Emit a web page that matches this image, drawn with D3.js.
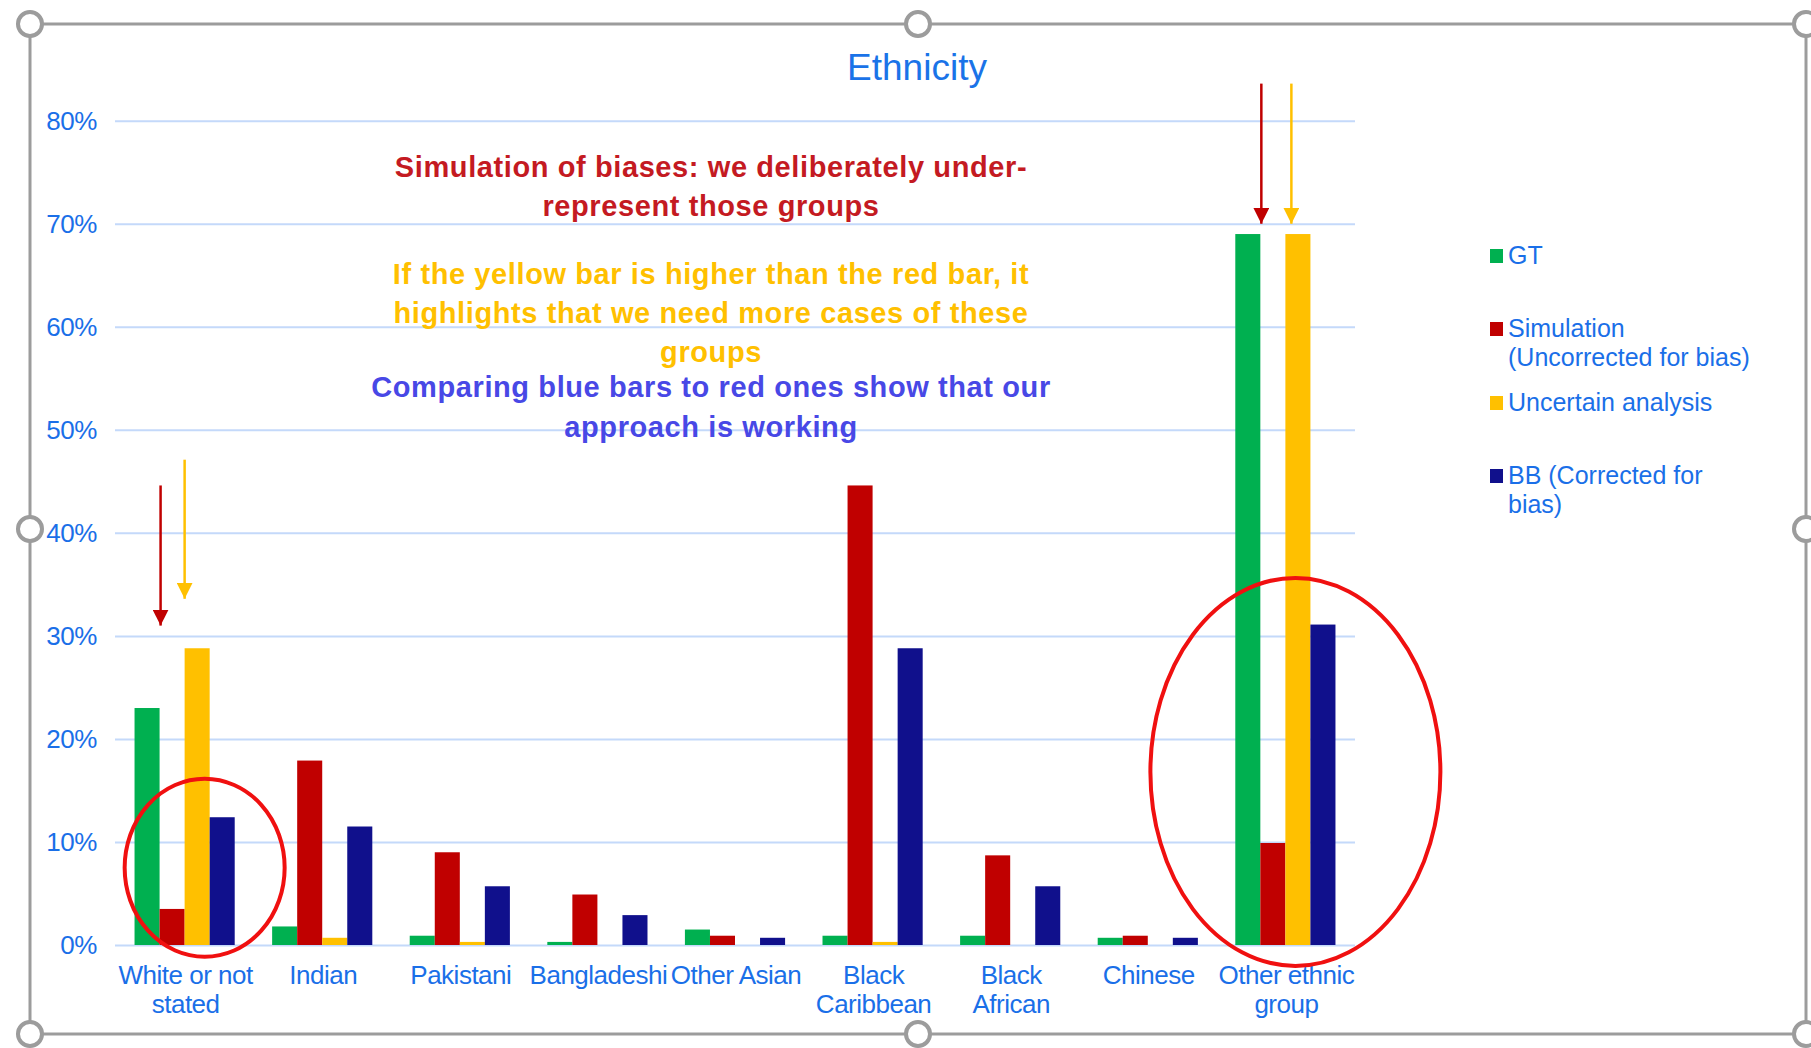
<!DOCTYPE html>
<html>
<head>
<meta charset="utf-8">
<script src="https://cdn.jsdelivr.net/npm/d3@7"></script>
<style>
  html, body { margin: 0; padding: 0; background: #fff; }
  svg { display: block; font-family: "Liberation Sans", Arial, sans-serif; }
</style>
</head>
<body>
<svg id="chart" width="1811" height="1048"></svg>
<script>
// ---------------- DATA ----------------
const categories = ["White or not stated", "Indian", "Pakistani", "Bangladeshi", "Other Asian",
                    "Black Caribbean", "Black African", "Chinese", "Other ethnic group"];
const categoryLabelLines = [["White or not", "stated"], ["Indian"], ["Pakistani"], ["Bangladeshi"], ["Other Asian"],
                            ["Black", "Caribbean"], ["Black", "African"], ["Chinese"], ["Other ethnic", "group"]];
const seriesNames = ["GT", "Simulation (Uncorrected for bias)", "Uncertain analysis", "BB (Corrected for bias)"];
const legendLines = [["GT"], ["Simulation", "(Uncorrected for bias)"], ["Uncertain analysis"], ["BB (Corrected for", "bias)"]];
const gtValues        = [23.0, 1.8, 0.9, 0.3, 1.5, 0.9, 0.9, 0.7, 69.0];
const simulationValues= [3.5, 17.9, 9.0, 4.9, 0.9, 44.6, 8.7, 0.9, 9.9];
const uncertainValues = [28.8, 0.7, 0.3, 0.0, 0.0, 0.3, 0.0, 0.0, 69.0];
const bbValues        = [12.4, 11.5, 5.7, 2.9, 0.7, 28.8, 5.7, 0.7, 31.1];
const yTicks = [0, 10, 20, 30, 40, 50, 60, 70, 80];
const titleText = "Ethnicity";
const noteRed = ["Simulation of biases: we deliberately under-", "represent those groups"];
const noteYellow = ["If the yellow bar is higher than the red bar, it", "highlights that we need more cases of these", "groups"];
const noteBlue = ["Comparing blue bars to red ones show that our", "approach is working"];

// ---------------- STYLE ----------------
const seriesColors = ["#00b050", "#c00000", "#ffc000", "#10108c"];
const axisBlue = "#1a6fe8";
const gridColor = "#c4d9fa";

const svg = d3.select("#chart");

// plot geometry
const plot = { left: 115, right: 1355, top: 120.7, bottom: 945 };

const x = d3.scaleBand().domain(categories).range([plot.left, plot.right])
  .paddingInner(0.272).paddingOuter(0.142);
const xs = d3.scaleBand().domain(seriesNames).range([0, x.bandwidth()]).padding(0);
const y = d3.scaleLinear().domain([0, 80]).range([plot.bottom, plot.top]);

const seriesValues = [gtValues, simulationValues, uncertainValues, bbValues];

// ---------------- FRAME ----------------
const frame = { l: 30, t: 24, r: 1806, b: 1034 };
const frameG = svg.append("g");
frameG.append("rect").attr("x", frame.l).attr("y", frame.t)
  .attr("width", frame.r - frame.l).attr("height", frame.b - frame.t)
  .attr("fill", "none").attr("stroke", "#9c9c9c").attr("stroke-width", 3);

// ---------------- GRID + Y AXIS ----------------
const yAxis = d3.axisLeft(y).tickValues(yTicks).tickFormat(d => d + "%")
  .tickSize(-(plot.right - plot.left)).tickPadding(18);
const yg = svg.append("g").attr("transform", `translate(${plot.left},0)`).call(yAxis);
yg.select(".domain").remove();
yg.selectAll(".tick line").attr("stroke", gridColor).attr("stroke-width", 2);
yg.selectAll(".tick text").attr("fill", axisBlue).attr("font-size", 26)
  .attr("font-family", "Liberation Sans, Arial, sans-serif").attr("letter-spacing", "-0.4px");

// ---------------- BARS ----------------
const rows = categories.map((c, i) => ({ cat: c, vals: seriesNames.map((s, j) => ({ s, j, v: seriesValues[j][i] })) }));
const groups = svg.append("g").selectAll("g").data(rows).join("g")
  .attr("transform", d => `translate(${x(d.cat)},0)`);
groups.selectAll("rect").data(d => d.vals.filter(v => v.v > 0)).join("rect")
  .attr("x", d => xs(d.s))
  .attr("width", xs.bandwidth())
  .attr("y", d => y(d.v))
  .attr("height", d => y(0) - y(d.v))
  .attr("fill", d => seriesColors[d.j]);

// ---------------- X AXIS ----------------
const xAxis = d3.axisBottom(x).tickSize(0).tickPadding(0).tickFormat(() => "");
const xg = svg.append("g").attr("transform", `translate(0,${plot.bottom})`).call(xAxis);
xg.select(".domain").remove();
xg.selectAll(".tick").each(function(d, i) {
  const t = d3.select(this).append("text")
    .attr("fill", axisBlue).attr("font-size", 26).attr("text-anchor", "middle")
    .attr("letter-spacing", "-0.5px")
    .attr("font-family", "Liberation Sans, Arial, sans-serif");
  categoryLabelLines[i].forEach((line, k) => {
    t.append("tspan").attr("x", 1).attr("y", 39 + k * 29).text(line);
  });
});

// ---------------- TITLE ----------------
svg.append("text").attr("x", 917).attr("y", 80).attr("text-anchor", "middle")
  .attr("fill", "#1a73e8").attr("font-size", 37).text(titleText);

// ---------------- NOTES ----------------
function note(lines, color, baseY, step) {
  const t = svg.append("text").attr("text-anchor", "middle").attr("fill", color)
    .attr("font-size", 29).attr("font-weight", "bold").attr("letter-spacing", "0.6px");
  lines.forEach((l, k) => t.append("tspan").attr("x", 711).attr("y", baseY + k * step).text(l));
}
note(noteRed, "#c41a22", 176.5, 39);
note(noteYellow, "#ffc000", 283.5, 39);
note(noteBlue, "#4848e6", 397, 39.5);

// ---------------- ANNOTATIONS (arrows, ellipses) ----------------
const defs = svg.append("defs");
[["ah-red", "#c00000"], ["ah-yel", "#ffc000"]].forEach(([id, col]) => {
  defs.append("marker").attr("id", id).attr("viewBox", "0 0 10 10").attr("refX", 10).attr("refY", 5)
    .attr("markerWidth", 6.4).attr("markerHeight", 6.4).attr("markerUnits", "strokeWidth")
    .attr("orient", "auto")
    .append("path").attr("d", "M0,0 L10,5 L0,10 Z").attr("fill", col);
});
const arrows = [
  { cat: categories[0], s: 1, dx: 1, from: 44.6, to: 31.0, col: "#c00000", m: "ah-red" },
  { cat: categories[0], s: 2, dx: 0, from: 47.1, to: 33.6, col: "#ffc000", m: "ah-yel" },
  { cat: categories[8], s: 1, dx: 1, from: 83.6, to: 70.0, col: "#c00000", m: "ah-red" },
  { cat: categories[8], s: 2, dx: 6, from: 83.6, to: 70.0, col: "#ffc000", m: "ah-yel" }
];
svg.append("g").selectAll("line").data(arrows).join("line")
  .attr("x1", d => x(d.cat) + xs(seriesNames[d.s]) + d.dx)
  .attr("x2", d => x(d.cat) + xs(seriesNames[d.s]) + d.dx)
  .attr("y1", d => y(d.from)).attr("y2", d => y(d.to))
  .attr("stroke", d => d.col).attr("stroke-width", 2.5)
  .attr("marker-end", d => `url(#${d.m})`);

const ellipses = [
  { cat: categories[0], fx: 0.7, cv: 7.5, rx: 80, ry: 89 },
  { cat: categories[8], fx: 0.6, cv: 16.8, rx: 145, ry: 194 }
];
svg.append("g").selectAll("ellipse").data(ellipses).join("ellipse")
  .attr("cx", d => x(d.cat) + x.bandwidth() * d.fx)
  .attr("cy", d => y(d.cv))
  .attr("rx", d => d.rx).attr("ry", d => d.ry)
  .attr("fill", "none").attr("stroke", "#f01010").attr("stroke-width", 4);

// ---------------- LEGEND ----------------
const legendY = [256, 329, 403, 476];
const lg = svg.append("g");
legendLines.forEach((lines, i) => {
  lg.append("rect").attr("x", 1490).attr("y", legendY[i] - 7).attr("width", 13).attr("height", 14)
    .attr("fill", seriesColors[i]);
  const t = lg.append("text").attr("fill", axisBlue).attr("font-size", 25).attr("letter-spacing", "0px");
  lines.forEach((l, k) => t.append("tspan").attr("x", 1508).attr("y", legendY[i] + 8 + k * 29).text(l));
});

// ---------------- FRAME HANDLES ----------------
const handles = [[frame.l, frame.t], [918, frame.t], [frame.r, frame.t], [frame.l, 529], [frame.r, 529],
                 [frame.l, frame.b], [918, frame.b], [frame.r, frame.b]];
frameG.raise();
frameG.selectAll("circle").data(handles).join("circle")
  .attr("cx", d => d[0]).attr("cy", d => d[1]).attr("r", 12)
  .attr("fill", "#fff").attr("stroke", "#9c9c9c").attr("stroke-width", 4);
</script>
</body>
</html>
